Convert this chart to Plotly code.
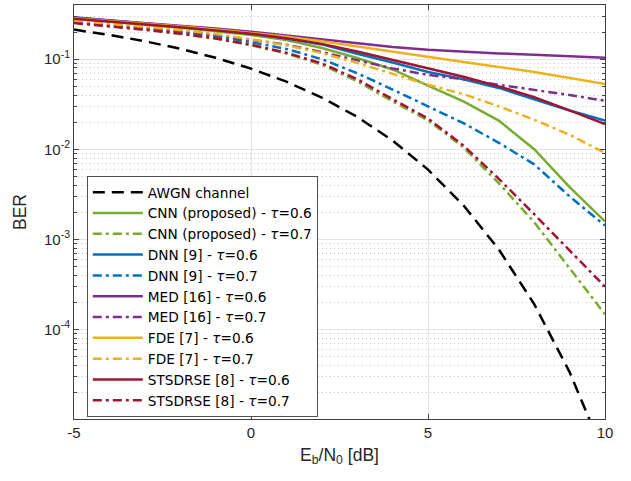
import plotly.graph_objects as go

ebn0 = [-5, -4, -3, -2, -1, 0, 1, 2, 3, 4, 5, 6, 7, 8, 9, 10]

awgn = [0.2132, 0.1861, 0.1584, 0.1306, 0.1038, 0.0786, 0.0563, 0.0375, 0.0229,
        0.0125, 0.00595, 0.00239, 0.000773, 0.000191, 3.36e-5, 3.87e-6]

cnn_06 = [0.283, 0.263, 0.243, 0.223, 0.204, 0.186, 0.163, 0.133, 0.103, 0.077,
          0.051, 0.034, 0.0208, 0.0100, 0.0038, 0.00158]
cnn_07 = [0.255, 0.235, 0.214, 0.193, 0.170, 0.143, 0.116, 0.087, 0.057, 0.034,
          0.021, 0.0105, 0.0042, 0.00155, 0.00047, 0.000147]
dnn_06 = [0.292, 0.271, 0.251, 0.231, 0.211, 0.192, 0.170, 0.146, 0.115, 0.092,
          0.072, 0.060, 0.048, 0.036, 0.027, 0.0208]
dnn_07 = [0.262, 0.242, 0.222, 0.201, 0.180, 0.155, 0.130, 0.100, 0.070, 0.046,
          0.030, 0.0195, 0.0118, 0.0068, 0.0030, 0.00142]
med_06 = [0.288, 0.270, 0.253, 0.236, 0.219, 0.202, 0.184, 0.166, 0.150, 0.137,
          0.127, 0.1205, 0.116, 0.112, 0.108, 0.104]
med_07 = [0.262, 0.243, 0.224, 0.205, 0.186, 0.165, 0.145, 0.120, 0.097, 0.079,
          0.067, 0.060, 0.052, 0.0458, 0.040, 0.0346]
fde_06 = [0.285, 0.267, 0.249, 0.231, 0.214, 0.197, 0.178, 0.158, 0.138, 0.121,
          0.106, 0.093, 0.082, 0.072, 0.062, 0.053]
fde_07 = [0.268, 0.249, 0.230, 0.211, 0.190, 0.167, 0.143, 0.117, 0.091, 0.069,
          0.052, 0.041, 0.030, 0.0213, 0.0145, 0.0091]
sts_06 = [0.281, 0.263, 0.245, 0.227, 0.209, 0.192, 0.171, 0.148, 0.122, 0.099,
          0.079, 0.064, 0.050, 0.038, 0.027, 0.019]
sts_07 = [0.252, 0.232, 0.212, 0.192, 0.170, 0.145, 0.118, 0.090, 0.060, 0.036,
          0.022, 0.0110, 0.0047, 0.0019, 0.00075, 0.000298]

x_ticks = [-5, 0, 5, 10]
x_ticktext = ["-5", "0", "5", "10"]
y_ticks = [1e-4, 1e-3, 1e-2, 1e-1]
y_ticktext = ["10<sup>-4</sup>", "10<sup>-3</sup>", "10<sup>-2</sup>", "10<sup>-1</sup>"]

GREEN = "#77AC30"
BLUE = "#0072BD"
PURPLE = "#7E2F8E"
YELLOW = "#EDB120"
RED = "#A2142F"
DASHDOT = "9px,4px,3px,4px"
TAU = "<i>τ</i>"

series = [
    ("AWGN channel", awgn, "black", "12px,7px"),
    (f"CNN (proposed) - {TAU}=0.6", cnn_06, GREEN, "solid"),
    (f"CNN (proposed) - {TAU}=0.7", cnn_07, GREEN, DASHDOT),
    (f"DNN [9] - {TAU}=0.6", dnn_06, BLUE, "solid"),
    (f"DNN [9] - {TAU}=0.7", dnn_07, BLUE, DASHDOT),
    (f"MED [16] - {TAU}=0.6", med_06, PURPLE, "solid"),
    (f"MED [16] - {TAU}=0.7", med_07, PURPLE, DASHDOT),
    (f"FDE [7] - {TAU}=0.6", fde_06, YELLOW, "solid"),
    (f"FDE [7] - {TAU}=0.7", fde_07, YELLOW, DASHDOT),
    (f"STSDRSE [8] - {TAU}=0.6", sts_06, RED, "solid"),
    (f"STSDRSE [8] - {TAU}=0.7", sts_07, RED, DASHDOT),
]

fig = go.Figure()
for name, vals, color, dash in series:
    fig.add_trace(go.Scatter(x=ebn0, y=vals, mode="lines", name=name,
                             line=dict(color=color, width=2.5, dash=dash)))

FONT = "Liberation Sans, Arial, Helvetica, sans-serif"
LEGFONT = "DejaVu Sans, Liberation Sans, sans-serif"
AXC = "#404040"
TXT = "#262626"
minor_y = [k * 10.0 ** e for e in range(-5, 0) for k in range(2, 10)]

fig.update_layout(
    width=631, height=481,
    margin=dict(l=74, r=26, t=5, b=62),
    paper_bgcolor="white", plot_bgcolor="white",
    font=dict(family=FONT, size=15, color=TXT),
    showlegend=True,
    legend=dict(x=0.0245, y=0.587, xanchor="left", yanchor="top",
                bgcolor="white", bordercolor=TXT, borderwidth=0.8,
                font=dict(family=LEGFONT, size=13.7, color="black"),
                tracegroupgap=0, itemwidth=50),
    xaxis=dict(range=[-5, 10], tickmode="array", tickvals=x_ticks,
               ticktext=x_ticktext, automargin=False,
               ticks="inside", ticklen=5, mirror="allticks", showline=True,
               linecolor=AXC, linewidth=1, showgrid=True, gridcolor="#e3e3e3",
               gridwidth=1, zeroline=False,
               tickfont=dict(size=15, color=TXT),
               title=dict(text="E<sub>b</sub>/N<sub>0</sub> [dB]", standoff=8,
                          font=dict(size=17.5, color=TXT))),
    yaxis=dict(type="log", range=[-4.995, -0.398], tickmode="array",
               tickvals=y_ticks, ticktext=y_ticktext, automargin=False,
               ticks="inside", ticklen=5, mirror="allticks", showline=True,
               linecolor=AXC, linewidth=1, showgrid=True, gridcolor="#e3e3e3",
               gridwidth=1, zeroline=False,
               tickfont=dict(size=15, color=TXT),
               minor=dict(tickmode="array", tickvals=minor_y, ticks="inside",
                          ticklen=3, showgrid=True, griddash="1px,3px",
                          gridcolor="#c8c8c8", gridwidth=1),
               title=dict(text="BER", standoff=12,
                          font=dict(size=17.5, color=TXT))),
)

fig.write_html("out.html", config={"displayModeBar": False},
               post_script="document.body.style.margin='0';document.body.style.padding='0';")
